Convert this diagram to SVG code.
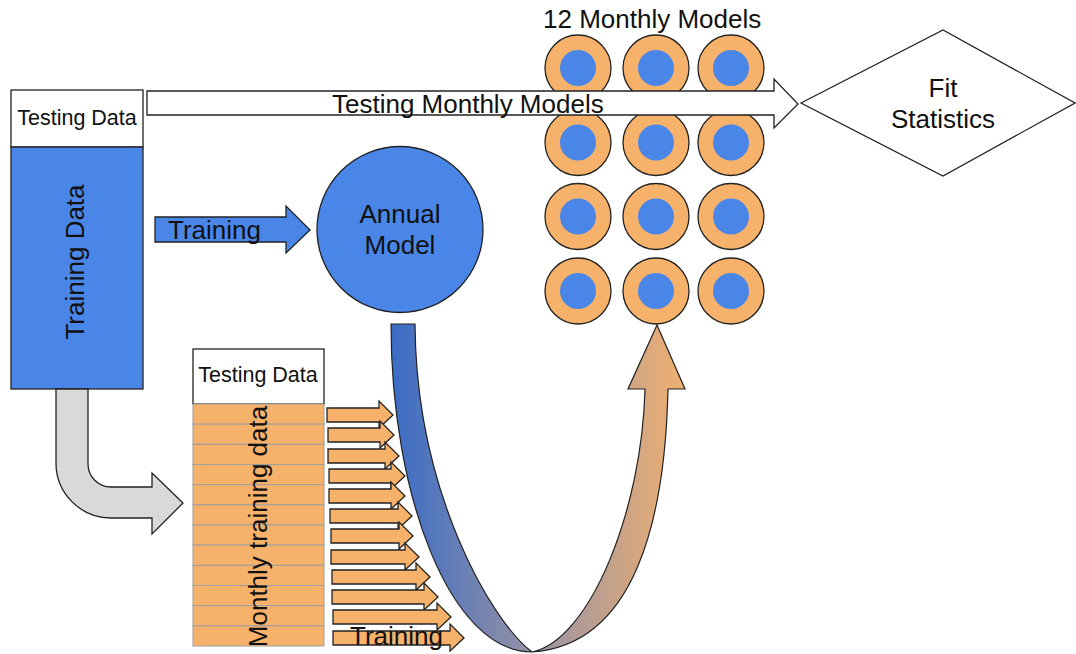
<svg xmlns="http://www.w3.org/2000/svg" width="1076" height="654" viewBox="0 0 1076 654">
<defs>
<style>
text{font-family:"Liberation Sans",Arial,sans-serif;fill:#111}
.big{font-size:26px}
.small{font-size:21.5px}
.box{fill:#fff;stroke:#222;stroke-width:1.3}
.blue{fill:#4a86e8;stroke:#222;stroke-width:1.3}
.row{fill:#f6b26b;stroke:#9e9e9e;stroke-width:1}
.sarr{fill:#f6b26b;stroke:#222;stroke-width:1.3;stroke-linejoin:miter}
.outer{fill:#f6b26b;stroke:#222;stroke-width:1.3}
.inner{fill:#4a86e8}
</style>
<linearGradient id="ugrad" x1="391" y1="0" x2="685" y2="0" gradientUnits="userSpaceOnUse">
<stop offset="0" stop-color="#3a6cc6"/>
<stop offset="0.5" stop-color="#9a93a4"/>
<stop offset="1" stop-color="#f0b070"/>
</linearGradient>
</defs>
<rect width="1076" height="654" fill="#fff"/>

<g id="monthly-models">
<g class="c"><circle class="outer" cx="578" cy="68" r="33"/><circle class="inner" cx="578" cy="68" r="18"/></g>
<g class="c"><circle class="outer" cx="656" cy="68" r="33"/><circle class="inner" cx="656" cy="68" r="18"/></g>
<g class="c"><circle class="outer" cx="731" cy="68" r="33"/><circle class="inner" cx="731" cy="68" r="18"/></g>
<g class="c"><circle class="outer" cx="578" cy="142.5" r="33"/><circle class="inner" cx="578" cy="142.5" r="18"/></g>
<g class="c"><circle class="outer" cx="656" cy="142.5" r="33"/><circle class="inner" cx="656" cy="142.5" r="18"/></g>
<g class="c"><circle class="outer" cx="731" cy="142.5" r="33"/><circle class="inner" cx="731" cy="142.5" r="18"/></g>
<g class="c"><circle class="outer" cx="578" cy="216.5" r="33"/><circle class="inner" cx="578" cy="216.5" r="18"/></g>
<g class="c"><circle class="outer" cx="656" cy="216.5" r="33"/><circle class="inner" cx="656" cy="216.5" r="18"/></g>
<g class="c"><circle class="outer" cx="731" cy="216.5" r="33"/><circle class="inner" cx="731" cy="216.5" r="18"/></g>
<g class="c"><circle class="outer" cx="578" cy="291" r="33"/><circle class="inner" cx="578" cy="291" r="18"/></g>
<g class="c"><circle class="outer" cx="656" cy="291" r="33"/><circle class="inner" cx="656" cy="291" r="18"/></g>
<g class="c"><circle class="outer" cx="731" cy="291" r="33"/><circle class="inner" cx="731" cy="291" r="18"/></g>
<text class="big" x="543" y="28">12 Monthly Models</text>
</g>

<g id="testing-data-top">
<rect class="box" x="11" y="90" width="132" height="57"/>
<text class="small" x="77" y="125" text-anchor="middle">Testing Data</text>
</g>

<g id="training-data">
<rect class="blue" x="11" y="147" width="132" height="242"/>
<text class="big" transform="translate(84,262) rotate(-90)" text-anchor="middle">Training Data</text>
</g>

<g id="annual-model">
<circle class="blue" cx="400" cy="229.5" r="83"/>
<text class="big" x="400" y="223" text-anchor="middle">Annual</text>
<text class="big" x="400" y="254" text-anchor="middle">Model</text>
</g>

<g id="fit-statistics">
<path d="M801,103 L943,30 L1075,103 L943,176 Z" fill="#fff" stroke="#222" stroke-width="1.3"/>
<text class="big" x="943" y="97" text-anchor="middle">Fit</text>
<text class="big" x="943" y="128" text-anchor="middle">Statistics</text>
</g>

<g id="monthly-data">
<rect class="box" x="193" y="349" width="131" height="55"/>
<text class="small" x="258" y="382" text-anchor="middle">Testing Data</text>
<rect class="row" x="193" y="404" width="131" height="20.17"/>
<rect class="row" x="193" y="424.17" width="131" height="20.17"/>
<rect class="row" x="193" y="444.33" width="131" height="20.17"/>
<rect class="row" x="193" y="464.5" width="131" height="20.17"/>
<rect class="row" x="193" y="484.67" width="131" height="20.17"/>
<rect class="row" x="193" y="504.83" width="131" height="20.17"/>
<rect class="row" x="193" y="525" width="131" height="20.17"/>
<rect class="row" x="193" y="545.17" width="131" height="20.17"/>
<rect class="row" x="193" y="565.33" width="131" height="20.17"/>
<rect class="row" x="193" y="585.5" width="131" height="20.17"/>
<rect class="row" x="193" y="605.67" width="131" height="20.17"/>
<rect class="row" x="193" y="625.83" width="131" height="20.17"/>
<text class="big" transform="translate(267,526.5) rotate(-90)" text-anchor="middle">Monthly training data</text>
</g>

<g id="connectors">
<path d="M147,91 L774,91 L774,79 L798,104 L774,128 L774,115 L147,115 Z" fill="#fff" stroke="#222" stroke-width="1.3"/>
<text class="big" x="332" y="113">Testing Monthly Models</text>

<path d="M155,217 L286,217 L286,206 L310,230 L286,253 L286,242 L155,242 Z" class="blue"/>
<text class="big" x="168" y="239">Training</text>

<path d="M56,389 L56,463 A55,55 0 0 0 111,518 L152,518 L152,534 L183,503 L152,473 L152,487 L111,487 A23,23 0 0 1 88,464 L88,389 Z" fill="#d9d9d9" stroke="#222" stroke-width="1.3"/>

<path class="sarr" d="M327,408 L379,408 L379,401 L393,415 L379,428 L379,422 L327,422 Z"/>
<path class="sarr" d="M328,428 L380,428 L380,421 L394,435 L380,448 L380,442 L328,442 Z"/>
<path class="sarr" d="M328,449 L385,449 L385,442 L399,456 L385,469 L385,463 L328,463 Z"/>
<path class="sarr" d="M329,469 L391,469 L391,462 L405,476 L391,489 L391,483 L329,483 Z"/>
<path class="sarr" d="M329,489 L391,489 L391,482 L405,496 L391,509 L391,503 L329,503 Z"/>
<path class="sarr" d="M330,509 L398,509 L398,502 L412,516 L398,529 L398,523 L330,523 Z"/>
<path class="sarr" d="M331,529 L399,529 L399,522 L413,536 L399,549 L399,543 L331,543 Z"/>
<path class="sarr" d="M331,550 L405,550 L405,543 L419,557 L405,570 L405,564 L331,564 Z"/>
<path class="sarr" d="M332,570 L416,570 L416,563 L430,577 L416,590 L416,584 L332,584 Z"/>
<path class="sarr" d="M332,590 L424,590 L424,583 L438,597 L424,610 L424,604 L332,604 Z"/>
<path class="sarr" d="M333,610 L437,610 L437,603 L451,617 L437,630 L437,624 L333,624 Z"/>
<path class="sarr" d="M333,631 L450,631 L450,624 L464,638 L450,651 L450,645 L333,645 Z"/>
<text class="big" x="350" y="645">Training</text>

<path d="M391,324 C391,495 450,652 532,652 C635,645 665,520 668,389 L685,389 L657,325 L628,389 L645,389 C642,510 590,640 532,652 C490,620 416,490 415,324 Z" fill="url(#ugrad)" stroke="#222" stroke-width="1.2" stroke-linejoin="miter"/>
</g>
</svg>
